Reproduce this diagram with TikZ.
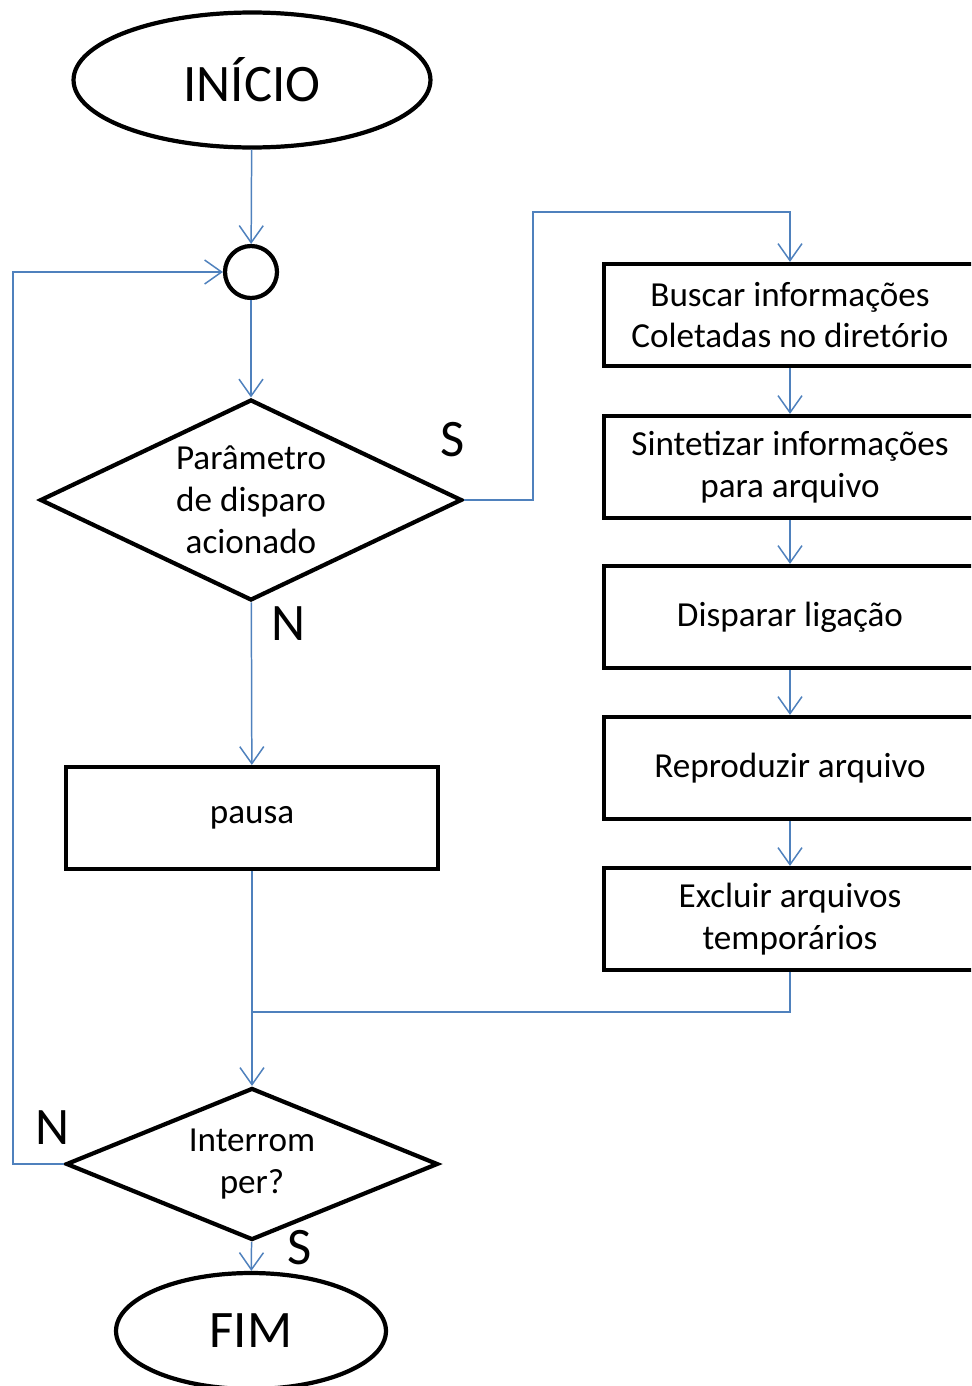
\documentclass[tikz,border=0pt]{standalone}
\usepackage{fontspec}
\setmainfont{Carlito}
\usepackage{tikz}
\usetikzlibrary{arrows.meta, shapes.geometric, positioning}
\definecolor{linkblue}{RGB}{79,129,189}

\begin{document}
\begin{tikzpicture}[x=0.02cm, y=-0.02cm,
    flow/.style={draw=black, line width=2.4pt},
    term/.style={flow, ellipse, inner sep=0pt, font=\fontsize{30}{36}\selectfont},
    proc/.style={flow, rectangle, minimum width=7.44cm, minimum height=2.04cm, inner sep=0pt, align=center, font=\fontsize{20}{23.8}\selectfont},
    decis/.style={flow, diamond, inner sep=0pt, align=center, font=\fontsize{20}{23.8}\selectfont},
    answer/.style={inner sep=0pt, font=\fontsize{30}{36}\selectfont},
    link/.style={draw=linkblue, line width=0.85pt},
    >={Straight Barb[length=0.34cm,width=0.48cm]}]
    \path[use as bounding box, clip] (0,0) rectangle (971,1386);

    \node[term, minimum width=7.14cm, minimum height=2.7cm] (start) at (252,80) {INÍCIO};
    \node[flow, circle, minimum size=1.04cm, inner sep=0pt] (join) at (251,272) {};
    \node[decis, aspect=2.1, minimum width=8.44cm, minimum height=4.02cm] (trigger) at (251,500) {Parâmetro\\de disparo\\acionado};
    \node[proc] (pause) at (252,818) {pausa};
    \node[decis, aspect=2.45, minimum width=7.44cm, minimum height=3.04cm] (stop) at (252,1164) {Interrom\\per?};
    \node[term, minimum width=5.4cm, minimum height=2.32cm] (end) at (251,1331) {FIM};

    \node[proc] (fetch) at (790,315) {Buscar informações\\Coletadas no diretório};
    \node[proc] (build) at (790,467) {Sintetizar informações\\para arquivo};
    \node[proc] (call) at (790,617) {Disparar ligação};
    \node[proc] (play) at (790,768) {Reproduzir arquivo};
    \node[proc] (clean) at (790,919) {Excluir arquivos\\temporários};

    \node[answer] (yes1) at (453,440) {S};
    \node[answer] (no1) at (289,624) {N};
    \node[answer] (no2) at (53,1128) {N};
    \node[answer] (yes2) at (300,1248) {S};

    \coordinate (up) at (533,212);
    \coordinate (merge) at (252,1012);
    \coordinate (back) at (13,272);

    \draw[link]
    (start) edge[->] (join)
    (join) edge[->] (trigger)
    (trigger) edge[->] (pause)
    (pause) edge[->] (stop)
    (stop) edge[->] (end)
    (fetch) edge[->] (build)
    (build) edge[->] (call)
    (call) edge[->] (play)
    (play) edge[->] (clean);
    \draw[link, ->] (trigger.east) -| (up) -| (fetch.north);
    \draw[link] (clean.south) |- (merge);
    \draw[link, ->] (stop.west) -| (back) -- (join.west);
\end{tikzpicture}
\end{document}
